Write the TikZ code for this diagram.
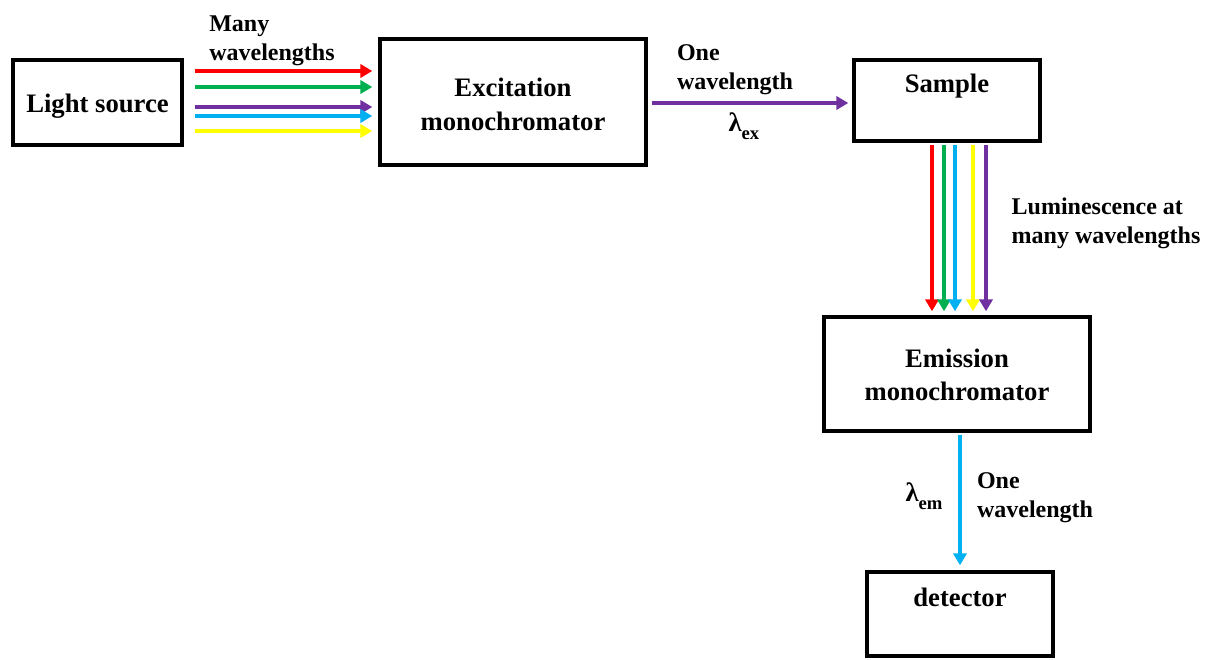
\documentclass[tikz,border=0pt]{standalone}
\usepackage{fontspec}
\setmainfont{Liberation Serif}
\usetikzlibrary{arrows.meta}
\definecolor{rayred}{RGB}{255,0,0}
\definecolor{raygreen}{RGB}{0,176,80}
\definecolor{raypurple}{RGB}{112,48,160}
\definecolor{raycyan}{RGB}{0,176,240}
\definecolor{rayyellow}{RGB}{255,255,0}
\newcommand{\lamsub}[1]{{\fontsize{20}{20}\selectfont λ}\raisebox{-6pt}{\fontsize{14}{14}\selectfont #1}}
\tikzset{every picture/.style={line width=0.75pt}}

\begin{document}
\begin{tikzpicture}[x=0.75pt,y=0.75pt,yscale=-1,xscale=1,
	box/.style={draw, line width=2.6pt, inner sep=0pt},
	boxtxt/.style={font=\fontsize{20}{25}\selectfont\bfseries, align=center},
	lbl/.style={font=\fontsize{18}{21.5}\selectfont\bfseries, align=left},
	ray/.style={line width=3pt, -{Triangle[length=9pt,width=10pt]}}]
	\useasboundingbox (0,0) rectangle (1206,660);

	%Shape: Rectangle
	\node[box, minimum width=126.75pt, minimum height=63.75pt] (src) at (97.5,102.5) {};
	%Shape: Rectangle
	\node[box, minimum width=199.5pt, minimum height=94.5pt] (exc) at (513,102) {};
	%Shape: Rectangle
	\node[box, minimum width=139.5pt, minimum height=60.75pt] (samp) at (947,100.5) {};
	%Shape: Rectangle
	\node[box, minimum width=199.5pt, minimum height=85.5pt] (emis) at (957,374) {};
	%Shape: Rectangle
	\node[box, minimum width=139.5pt, minimum height=63pt] (det) at (960,614) {};

	%Straight Lines
	\draw[ray, rayred, shorten <=8.25pt, shorten >=4.5pt] (src.east |- 0,71) -- (exc.west |- 0,71);
	\draw[ray, raygreen, shorten <=8.25pt, shorten >=4.5pt] (src.east |- 0,87) -- (exc.west |- 0,87);
	\draw[ray, raypurple, shorten <=8.25pt, shorten >=4.5pt] (src.east |- 0,107) -- (exc.west |- 0,107);
	\draw[ray, raycyan, shorten <=8.25pt, shorten >=4.5pt] (src.east |- 0,116) -- (exc.west |- 0,116);
	\draw[ray, rayyellow, shorten <=8.25pt, shorten >=4.5pt] (src.east |- 0,131) -- (exc.west |- 0,131);
	%Straight Lines
	\draw[ray, raypurple, shorten <=3pt, shorten >=3pt] (exc.east |- 0,103) -- (samp.west |- 0,103);
	%Straight Lines
	\draw[ray, rayred, shorten <=1.5pt, shorten >=3pt] (samp.south -| 932,0) -- (emis.north -| 932,0);
	\draw[ray, raygreen, shorten <=1.5pt, shorten >=3pt] (samp.south -| 944,0) -- (emis.north -| 944,0);
	\draw[ray, raycyan, shorten <=1.5pt, shorten >=3pt] (samp.south -| 955,0) -- (emis.north -| 955,0);
	\draw[ray, rayyellow, shorten <=1.5pt, shorten >=3pt] (samp.south -| 973,0) -- (emis.north -| 973,0);
	\draw[ray, raypurple, shorten <=1.5pt, shorten >=3pt] (samp.south -| 986,0) -- (emis.north -| 986,0);
	%Straight Lines
	\draw[ray, raycyan, shorten <=1.5pt, shorten >=3.75pt] (emis.south -| 960,0) -- (det.north -| 960,0);

	% Text Node
	\node[boxtxt] (srctxt) at (97.5,106) {Light source};
	% Text Node
	\node[boxtxt] (exctxt) at (513,104.5) {Excitation\\monochromator};
	% Text Node
	\node[boxtxt] (samptxt) at (947,86.5) {Sample};
	% Text Node
	\node[boxtxt] (emistxt) at (957,375) {Emission\\monochromator};
	% Text Node
	\node[boxtxt] (dettxt) at (960,597.5) {detector};
	% Text Node
	\node[lbl] (many) at (272,41) {Many\\wavelengths};
	% Text Node
	\node[lbl] (onetop) at (735,69.5) {One\\wavelength};
	% Text Node
	\node[lbl, anchor=base west, inner xsep=0pt] (lamex) at (728,131) {\lamsub{ex}};
	% Text Node
	\node[lbl] (lumi) at (1106,223) {Luminescence at\\many wavelengths};
	% Text Node
	\node[lbl] (onebot) at (1035,497.5) {One\\wavelength};
	% Text Node
	\node[lbl, anchor=base west, inner xsep=0pt] (lamem) at (905,501) {\lamsub{em}};

\end{tikzpicture}
\end{document}
